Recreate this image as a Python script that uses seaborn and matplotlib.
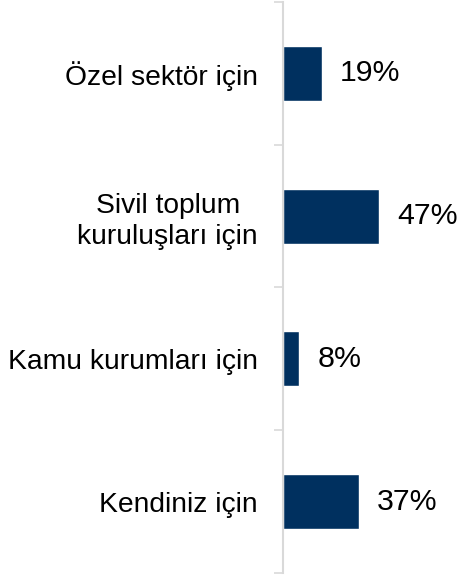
import matplotlib
matplotlib.use("Agg")
import matplotlib.pyplot as plt
import seaborn as sns
import pandas as pd

categories = ["Özel sektör için", "Sivil toplum\nkuruluşları için", "Kamu kurumları için", "Kendiniz için"]
values = [19, 47, 8, 37]
value_labels = ["19%", "47%", "8%", "37%"]

sns.set_theme(style="white")
plt.rcParams['font.family'] = ['Liberation Sans', 'DejaVu Sans']

df = pd.DataFrame({"category": categories, "value": values})

fig = plt.figure(figsize=(4.64, 5.77), dpi=100)
ax = fig.add_axes([283/464, 1 - 573/577, 1 - 283/464, 571/577])

sns.barplot(data=df, y="category", x="value", orient="h", color="#00305f",
            width=0.385, saturation=1, ax=ax)

ax.set_xlim(0, 88.7)
ax.set_ylim(3.5, -0.5)
ax.set_xlabel("")
ax.set_ylabel("")
ax.set_xticks([])

for s in ["top", "right", "bottom"]:
    ax.spines[s].set_visible(False)
ax.spines["left"].set_color("#d9d9d9")
ax.spines["left"].set_linewidth(1.5)

ax.set_yticks([0.5 * i - 0.5 for i in range(0, 9, 2)], minor=True)
ax.tick_params(axis="y", which="minor", length=6.5, width=1.2, color="#d9d9d9", left=True)
ax.tick_params(axis="y", which="major", length=0, pad=18, labelsize=20.3, labelcolor="black")
for lab in ax.get_yticklabels():
    lab.set_multialignment("center")
    lab.set_linespacing(1.25)

for i, (v, t) in enumerate(zip(values, value_labels)):
    ax.annotate(t, xy=(v, i), xytext=(13, 0), textcoords="offset points",
                ha="left", va="center", fontsize=21.8, color="black")

fig.savefig("out.png", dpi=100)
